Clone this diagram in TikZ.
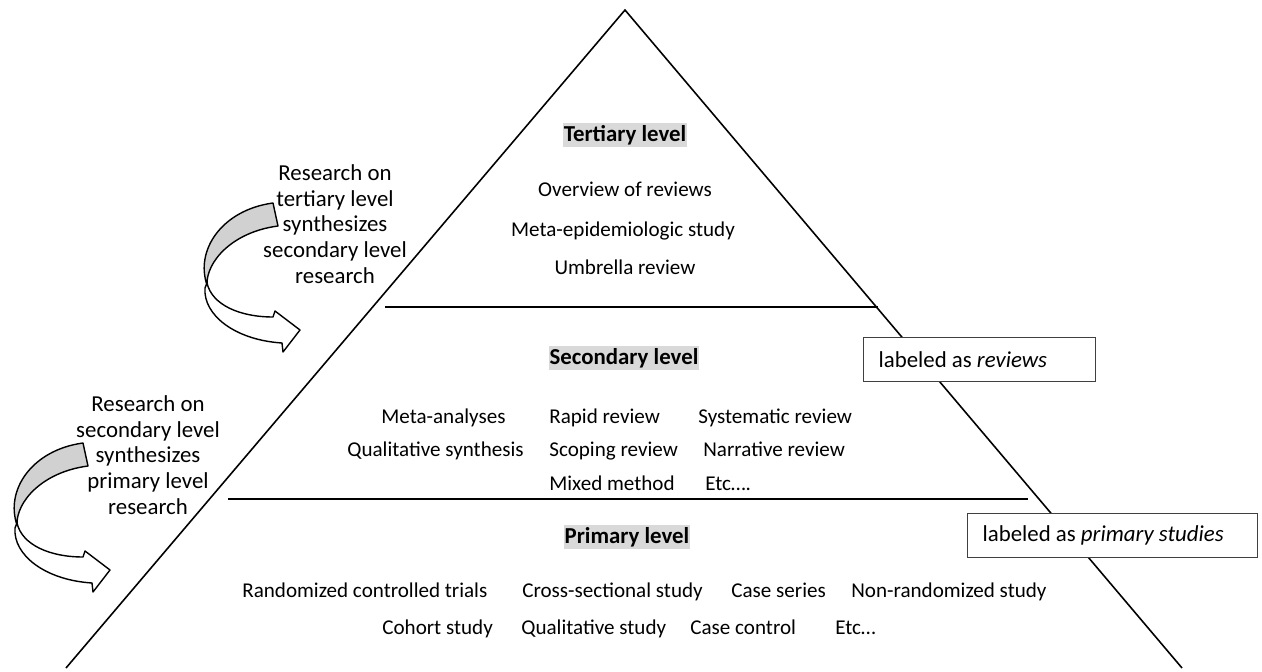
\documentclass[tikz,border=0pt]{standalone}
\usepackage{fontspec}
\setmainfont{Carlito}

\begin{document}
\begin{tikzpicture}[
  x=0.02cm, y=-0.02cm,
  font=\fontsize{12}{14.2}\selectfont,
  Side/.style={line width=0.9pt},
  Divider/.style={line width=0.6pt},
  LevelTitle/.style={font=\fontsize{13}{15}\selectfont\bfseries,
                fill=black!15, inner xsep=0.5pt, inner ysep=1.5pt},
  Item/.style={inner sep=0pt, anchor=base},
  Study/.style={inner sep=0pt, anchor=base west},
  Note/.style={font=\fontsize{13}{14.6}\selectfont, align=center, inner sep=0pt},
  LabelBox/.style={font=\fontsize{13}{15}\selectfont, draw=black!75,
                line width=0.7pt, fill=white, anchor=north west,
                minimum height=0.88cm, inner xsep=0.3cm, align=flush left},
  Band/.style={draw, line width=0.8pt, line join=round},
  CurvedArrow/.pic={
    \path[Band, fill=white] (207,283) .. controls (212,305) and (240,317) .. (273,317)
         -- (275,311) -- (300,330) -- (283,352) -- (282,343)
         .. controls (235,340) and (203,315) .. (205,288) -- cycle;
    \path[Band, fill=black!18] (273,203) .. controls (222,210) and (195,250) .. (207,285)
         .. controls (206,262) and (232,232) .. (278,226) -- cycle;
  },
  ]
\useasboundingbox (0,0) rectangle (1262,672);

% pyramid
\coordinate (apex) at (625,10);
\coordinate (baseL) at (66,668);
\coordinate (baseR) at (1182,668);
\draw [Side] (baseL) -- (apex) -- (baseR);
\draw [Divider] (385,307) -- (878,307);
\draw [Divider] (228,499) -- (1028,499);

% tertiary level
\node [LevelTitle] (tert) at (625,135) {Tertiary level};
\node [Item] (t1) at (625,197) {Overview of reviews};
\node [Item] (t2) at (623,237) {Meta-epidemiologic study};
\node [Item] (t3) at (625,275) {Umbrella review};

% secondary level
\node [LevelTitle] (sec) at (624,358) {Secondary level};
\node [Study] (s1) at (381,423) {Meta-analyses};
\node [Study] (s2) at (549,423) {Rapid review};
\node [Study] (s3) at (698,423) {Systematic review};
\node [Study] (s4) at (347,457) {Qualitative synthesis};
\node [Study] (s5) at (549,457) {Scoping review};
\node [Study] (s6) at (703,457) {Narrative review};
\node [Study] (s7) at (549,490) {Mixed method};
\node [Study] (s8) at (705,490) {Etc….};

% primary level
\node [LevelTitle] (prim) at (627,537) {Primary level};
\node [Study] (p1) at (242,597) {Randomized controlled trials};
\node [Study] (p2) at (522,597) {Cross-sectional study};
\node [Study] (p3) at (731,597) {Case series};
\node [Study] (p4) at (851,597) {Non-randomized study};
\node [Study] (p5) at (382,634) {Cohort study};
\node [Study] (p6) at (521,634) {Qualitative study};
\node [Study] (p7) at (690,634) {Case control};
\node [Study] (p8) at (835,634) {Etc…};

% labels on the right
\node [LabelBox, minimum width=4.64cm, text width=4.04cm] (revBox) at (863,337)
      {labeled as \textit{reviews}};
\node [LabelBox, minimum width=5.8cm, text width=5.2cm] (primBox) at (967,513)
      {labeled as \textit{primary studies}};

% notes with curved arrows
\node [Note] (noteTop) at (335,224) {Research on\\tertiary level\\synthesizes\\secondary level\\research};
\node [Note] (noteLow) at (148,455) {Research on\\secondary level\\synthesizes\\primary level\\research};
\pic (arrowTop) at (0,0) {CurvedArrow};
\pic (arrowLow) at (-190,240) {CurvedArrow};
\end{tikzpicture}
\end{document}
